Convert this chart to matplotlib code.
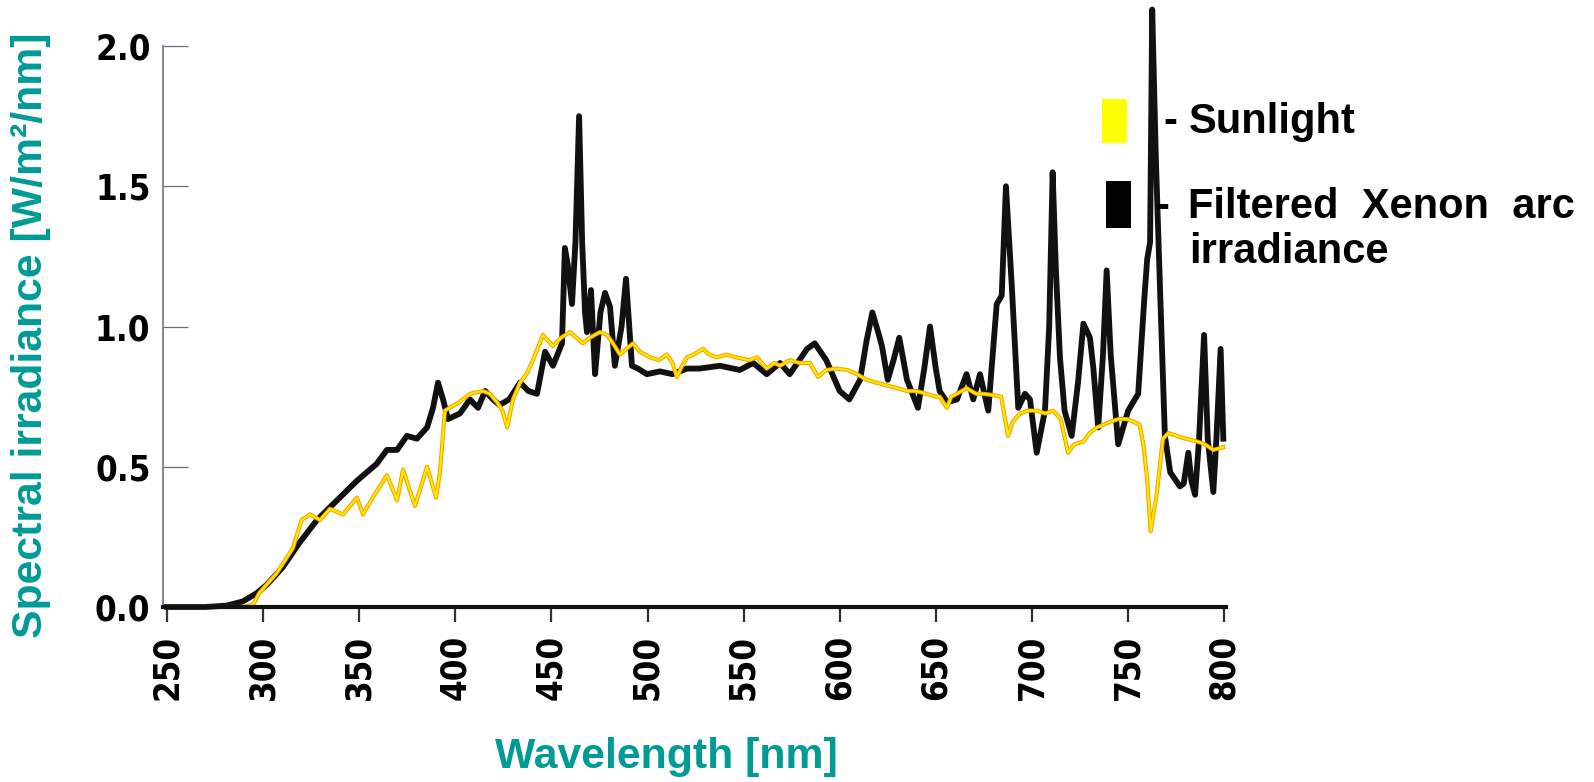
import matplotlib
matplotlib.use("Agg")
import matplotlib.pyplot as plt
from matplotlib.patches import Rectangle

# Filtered Xenon arc irradiance (black)
xenon_nm = [250, 270, 281, 289.5, 296.8, 302, 310, 319, 328, 338.4, 348.8, 359, 364.4, 369.7,
            374.8, 380, 385.3, 388.4, 391, 393.6, 396.2, 402.4, 407.6, 411.8, 415.5, 419.6, 423,
            428, 433.7, 438, 442.5, 446.7, 450.8, 455.5, 457, 458.5, 460.7, 462.5, 464.4, 466,
            467.5, 468.5, 470.6, 472.7, 475.5, 477.9, 480.5, 483, 486.5, 488.8, 491.9, 495, 499.7,
            506.5, 513, 520.5, 527, 537.7, 548, 555, 562, 569, 574, 579, 583, 587, 593, 600, 605,
            610.6, 614, 617, 620, 622, 625, 628, 631, 635, 640.7, 644, 647, 650, 652, 655.8, 661,
            666, 669.5, 673, 677.3, 681.7, 684.3, 686.5, 689.5, 692.9, 696.4, 699, 702.5, 706.8,
            709, 710.8, 712.5, 714.6, 717, 720.7, 724, 726.8, 730.2, 732, 734.5, 737, 738.9, 741,
            744.9, 750.1, 755.3, 758.5, 760, 761.5, 762.6, 764.5, 766.6, 769.2, 772, 777, 779,
            781.4, 783, 784.9, 787, 789.6, 791.5, 794.4, 796, 798.2, 799.6]
xenon = [0, 0, 0.005, 0.02, 0.05, 0.08, 0.14, 0.23, 0.31, 0.38, 0.45, 0.51, 0.56, 0.56,
         0.61, 0.60, 0.64, 0.71, 0.80, 0.74, 0.67, 0.69, 0.74, 0.71, 0.77, 0.74, 0.72,
         0.74, 0.80, 0.77, 0.76, 0.91, 0.86, 0.94, 1.28, 1.22, 1.08, 1.30, 1.75, 1.30,
         1.05, 0.98, 1.13, 0.83, 1.05, 1.12, 1.07, 0.86, 1.0, 1.17, 0.86, 0.85, 0.83,
         0.84, 0.83, 0.85, 0.85, 0.86, 0.845, 0.87, 0.83, 0.87, 0.83, 0.88, 0.92, 0.94, 0.88, 0.77, 0.74,
         0.81, 0.95, 1.05, 0.98, 0.93, 0.81, 0.88, 0.96, 0.81, 0.71, 0.85, 1.0, 0.85, 0.77, 0.73, 0.74,
         0.83, 0.74, 0.83, 0.70, 1.08, 1.11, 1.50, 1.15, 0.71, 0.76, 0.74, 0.55, 0.70,
         1.0, 1.55, 1.2, 0.89, 0.70, 0.61, 0.80, 1.01, 0.96, 0.85, 0.64, 0.90, 1.20, 0.90,
         0.58, 0.70, 0.76, 1.10, 1.24, 1.30, 2.13, 1.60, 1.15, 0.61, 0.48, 0.43, 0.44,
         0.55, 0.45, 0.40, 0.60, 0.97, 0.60, 0.41, 0.60, 0.92, 0.60]

# Sunlight (yellow)
sun_nm = [250, 290, 295, 298, 307, 315.5, 320, 324.4, 329.6, 334.8, 341.6, 348.8, 352, 357,
          364.4, 369.7, 372.8, 379, 385.3, 390, 392, 394.6, 397, 402, 407.6, 414.4, 418, 421.7,
          424.5, 427, 430, 433.7, 437, 440.4, 445.6, 450.8, 455, 459.7, 463, 466.4, 470, 475.3,
          479, 482, 485.7, 489, 492.5, 496, 501.3, 506, 510, 513, 515.3, 518, 520.5, 524, 528.9,
          532, 536, 541, 546, 553, 557, 562, 566, 569, 574, 579, 584.5, 588.7, 593, 598, 604,
          609, 614, 619, 624.6, 630, 635, 640, 645, 650, 652, 655.8, 658, 661, 666, 671, 675,
          680, 684, 687.6, 690, 693.8, 698, 702.6, 707, 711, 715, 718.8, 722, 726.8, 730, 733.9,
          740.6, 745, 749.5, 753, 756, 758, 759.8, 761.8, 764.9, 768.2, 771, 775.5, 780, 786,
          790, 794.4, 799.6]
sun = [0, 0, 0.01, 0.05, 0.12, 0.21, 0.31, 0.33, 0.31, 0.35, 0.33, 0.39, 0.33, 0.39,
       0.47, 0.38, 0.49, 0.36, 0.50, 0.39, 0.48, 0.70, 0.71, 0.73, 0.76, 0.77, 0.76, 0.73,
       0.70, 0.64, 0.74, 0.80, 0.83, 0.88, 0.97, 0.93, 0.96, 0.98, 0.96, 0.94, 0.96, 0.98,
       0.97, 0.94, 0.90, 0.92, 0.94, 0.91, 0.89, 0.88, 0.90, 0.87, 0.82, 0.86, 0.89, 0.90, 0.92,
       0.90, 0.89, 0.90, 0.89, 0.88, 0.89, 0.85, 0.87, 0.86, 0.88, 0.87, 0.87, 0.82, 0.845, 0.85, 0.845,
       0.83, 0.81, 0.80, 0.79, 0.78, 0.77, 0.77, 0.76, 0.75, 0.75, 0.71, 0.75, 0.76, 0.78, 0.76, 0.76,
       0.755, 0.75, 0.61, 0.66, 0.69, 0.70, 0.70, 0.69, 0.70, 0.67, 0.55, 0.58, 0.59, 0.62, 0.64,
       0.66, 0.67, 0.67, 0.66, 0.65, 0.58, 0.47, 0.27, 0.40, 0.60, 0.62, 0.61, 0.60, 0.59,
       0.58, 0.56, 0.57]

x_ticks = [250, 300, 350, 400, 450, 500, 550, 600, 650, 700, 750, 800]
y_ticks = [0.0, 0.5, 1.0, 1.5, 2.0]

teal = "#009B96"
W, H = 1594, 782

fig = plt.figure(figsize=(W / 100, H / 100), dpi=100)
ax = fig.add_axes([163 / W, (H - 607) / H, (1226 - 163) / W, 607 / H])

ax.plot(xenon_nm, xenon, color="#111111", linewidth=4.2, solid_joinstyle="round", clip_on=False, zorder=3)
ax.plot(sun_nm, sun, color="#F2A000", linewidth=3.0, solid_joinstyle="round", clip_on=False, zorder=4)
ax.plot(sun_nm, sun, color="#FFE600", linewidth=1.6, solid_joinstyle="round", clip_on=False, zorder=5)

ax.set_xlim(247.9, 801.0)
ax.set_ylim(0, 2.164)

for s in ["top", "right"]:
    ax.spines[s].set_visible(False)
ax.spines["left"].set_bounds(0, 2.0)
ax.spines["left"].set_color("#7a6a85")
ax.spines["left"].set_linewidth(1.2)
ax.spines["bottom"].set_color("#111111")
ax.spines["bottom"].set_linewidth(3.0)
ax.spines["bottom"].set_zorder(6)

tick_font = {"family": "DejaVu Sans", "weight": "bold", "size": 25, "stretch": "condensed"}

ax.set_xticks(x_ticks)
ax.set_xticklabels([str(v) for v in x_ticks], rotation=90, fontdict=tick_font)
ax.tick_params(axis="x", direction="out", length=11, width=1.6, color="#333333", pad=9)

ax.set_yticks(y_ticks)
ax.set_yticklabels([f"{v:.1f}" for v in y_ticks], fontdict=tick_font)
ax.tick_params(axis="y", direction="in", length=18, width=0.9, color="#6a6a80", pad=9)

label_font = {"family": ["Liberation Sans", "DejaVu Sans"], "weight": "bold", "size": 30.8, "color": teal}
fig.text(31 / W, 1 - 335 / H, "Spectral irradiance [W/m²/nm]", rotation=90,
         ha="center", va="center", fontdict=label_font)
fig.text(666 / W, 1 - 757 / H, "Wavelength [nm]", ha="center", va="center", fontdict=label_font)

# legend
fig.patches.append(Rectangle((1102 / W, 1 - 143 / H), 25 / W, 44 / H, transform=fig.transFigure,
                             facecolor="#FFFF00", edgecolor="none"))
fig.patches.append(Rectangle((1106 / W, 1 - 228 / H), 25 / W, 47 / H, transform=fig.transFigure,
                             facecolor="#000000", edgecolor="none"))
legend_font = {"family": ["Liberation Sans", "DejaVu Sans"], "weight": "bold", "size": 30, "color": "black"}
fig.text(1163 / W, 1 - 133 / H, "-", ha="left", va="baseline", fontdict=legend_font)
fig.text(1189 / W, 1 - 133 / H, "Sunlight", ha="left", va="baseline", fontdict=legend_font)
fig.text(1155 / W, 1 - 218 / H, "-", ha="left", va="baseline", fontdict=legend_font)
fig.text(1188 / W, 1 - 218 / H, "Filtered  Xenon  arc", ha="left", va="baseline", fontdict=legend_font)
fig.text(1189 / W, 1 - 263 / H, "irradiance", ha="left", va="baseline", fontdict=legend_font)

plt.savefig("out.png", dpi=100)
plt.close()
